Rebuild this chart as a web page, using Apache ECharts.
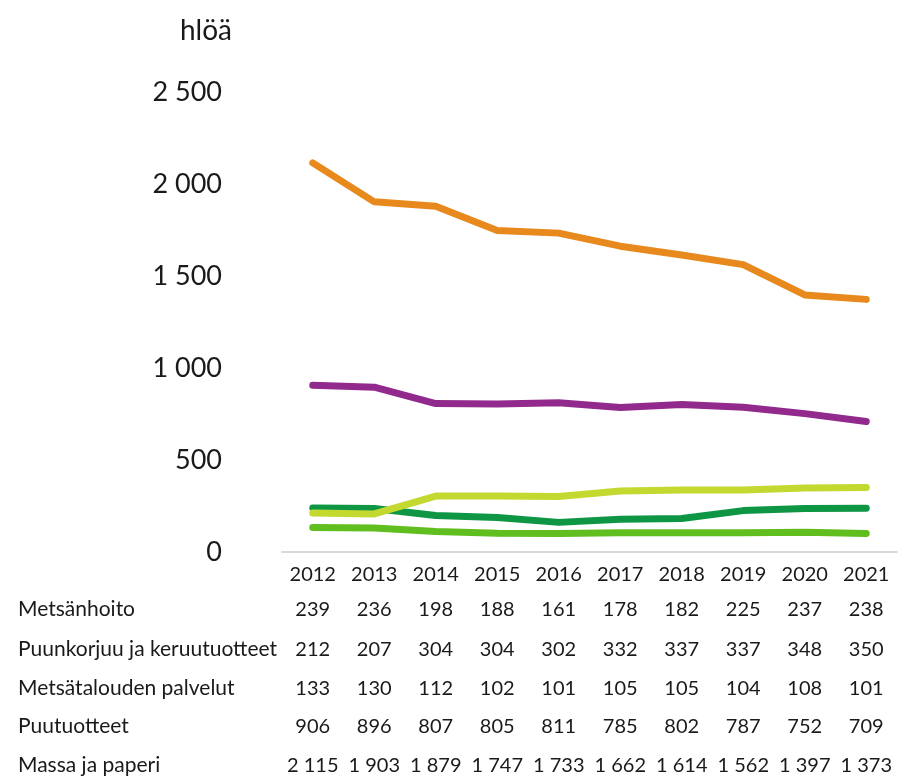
<!DOCTYPE html>
<html>
<head>
<meta charset="utf-8">
<script src="https://cdn.jsdelivr.net/npm/echarts@6/dist/echarts.min.js"></script>
<style>
  html, body { margin: 0; padding: 0; background: #fff; }
  #chart { width: 908px; height: 776px; }
</style>
</head>
<body>
<div id="chart"></div>
<script>
var years = ['2012', '2013', '2014', '2015', '2016', '2017', '2018', '2019', '2020', '2021'];
var metsanhoito = [239, 236, 198, 188, 161, 178, 182, 225, 237, 238];
var puunkorjuu = [212, 207, 304, 304, 302, 332, 337, 337, 348, 350];
var palvelut = [133, 130, 112, 102, 101, 105, 105, 104, 108, 101];
var puutuotteet = [906, 896, 807, 805, 811, 785, 802, 787, 752, 709];
var massa = [2115, 1903, 1879, 1747, 1733, 1662, 1614, 1562, 1397, 1373];

var rows = [
  { name: 'Metsänhoito', data: metsanhoito, color: '#0e9645' },
  { name: 'Puunkorjuu ja keruutuotteet', data: puunkorjuu, color: '#c3d92f' },
  { name: 'Metsätalouden palvelut', data: palvelut, color: '#60be1f' },
  { name: 'Puutuotteet', data: puutuotteet, color: '#922a8e' },
  { name: 'Massa ja paperi', data: massa, color: '#e8891d' }
];

var font = 'Lato, "Noto Sans", sans-serif';

function fmt(v) {
  return String(v).replace(/\B(?=(\d{3})+(?!\d))/g, ' ');
}

var chartDom = document.getElementById('chart');
var myChart = echarts.init(chartDom);

// taulukon rivit akselin alla
var rowOffsets = [35, 75, 114, 152, 191];

var xAxes = [{
  type: 'category',
  data: years,
  position: 'bottom',
  axisLine: { lineStyle: { color: '#d9d9d9', width: 2 } },
  axisTick: { show: false },
  axisLabel: { margin: 13, color: '#1a1a1a', fontSize: 20, fontFamily: font, interval: 0 }
}];

rows.forEach(function (r, i) {
  xAxes.push({
    type: 'category',
    data: r.data.map(fmt),
    position: 'bottom',
    offset: rowOffsets[i],
    name: r.name,
    nameLocation: 'start',
    nameGap: 264,
    nameTextStyle: {
      align: 'left',
      verticalAlign: 'top',
      padding: [12, 0, 0, 0],
      color: '#1a1a1a',
      fontSize: 21,
      fontFamily: font
    },
    axisLine: { show: false },
    axisTick: { show: false },
    axisLabel: { margin: 13, color: '#1a1a1a', fontSize: 20, fontFamily: font, interval: 0 }
  });
});

var option = {
  animation: false,
  title: {
    text: 'hlöä',
    left: 175,
    top: 12,
    textStyle: { color: '#1a1a1a', fontSize: 28, fontWeight: 'normal', fontFamily: font }
  },
  grid: {
    left: 282,
    right: 11,
    top: 92,
    bottom: 224
  },
  xAxis: xAxes,
  yAxis: {
    type: 'value',
    min: 0,
    max: 2500,
    interval: 500,
    axisLine: { show: false },
    axisTick: { show: false },
    splitLine: { show: false },
    axisLabel: {
      margin: 60,
      color: '#1a1a1a',
      fontSize: 27,
      fontFamily: font,
      formatter: function (v) { return fmt(v); }
    }
  },
  series: rows.map(function (r) {
    return {
      name: r.name,
      type: 'line',
      xAxisIndex: 0,
      data: r.data,
      showSymbol: false,
      symbol: 'none',
      lineStyle: { color: r.color, width: 7, cap: 'round', join: 'round' },
      itemStyle: { color: r.color }
    };
  })
};
myChart.setOption(option);
</script>
</body>
</html>
